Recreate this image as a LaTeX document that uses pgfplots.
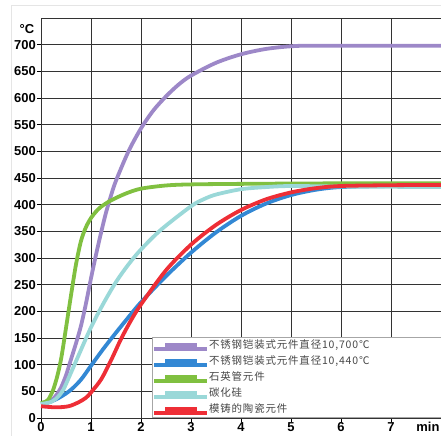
\documentclass[border=0pt]{standalone}
\usepackage{pgfplots}
\pgfplotsset{compat=1.18}
\usepackage{fontspec}
\setmainfont{Liberation Sans}
\newfontfamily\cjk[LetterSpace=8]{Noto Sans CJK SC}
\definecolor{cpur}{HTML}{9D88C8}
\definecolor{cblu}{HTML}{3388D4}
\definecolor{cgrn}{HTML}{80C040}
\definecolor{ccya}{HTML}{9AD8D8}
\definecolor{cred}{HTML}{EE2E36}
\begin{document}
\begin{tikzpicture}
\path[use as bounding box] (-41bp,-18bp) rectangle (400bp,418bp);
\begin{axis}[
  at={(0,0)}, anchor=south west,
  scale only axis, width=400bp, height=400bp,
  xmin=0, xmax=8, ymin=0, ymax=750,
  xtick={0,...,7}, ytick={0,50,...,700},
  grid=major, major grid style={black!80, line width=0.8bp},
  axis line style={black!80, line width=0.8bp},
  tick style={black, line width=0.8bp},
  tick align=outside, major tick length=4bp,
  xtick pos=left, ytick pos=left,
  ticklabel style={font=\fontsize{13}{15}\selectfont\bfseries},
  /pgf/number format/assume math mode=true,
  yticklabel style={inner xsep=1bp},
  xticklabel style={inner ysep=0.5bp},
  clip=false,
  legend style={at={(0.2775,0.2025)}, anchor=north west, draw=black!35, line width=0.6bp,
    fill=white, inner xsep=0bp, inner ysep=0bp, row sep=0bp, column sep=0bp,
    font=\cjk\fontsize{10.5}{12}\selectfont,
    nodes={inner xsep=0bp, inner ysep=1bp, text height=10.5bp, text depth=3.5bp, anchor=base west, text=black!72}},
  legend cell align=left,
  legend image code/.code={\path (0bp,0bp) -- (53bp,0bp); \draw[#1, line width=5bp] (11bp,3.7bp) -- (43bp,3.7bp);},
  every axis plot/.append style={line width=3.8bp, smooth},
]
\addplot[cpur] coordinates {(0,25) (0.1,27) (0.2,32) (0.3,42) (0.4,57) (0.5,80) (0.6,110) (0.7,140) (0.8,173) (0.9,215) (1.0,262) (1.1,306) (1.2,347) (1.3,385) (1.4,417) (1.5,445) (1.75,500) (2.0,543) (2.25,577) (2.5,603) (2.75,625) (3.0,642) (3.5,666) (4,682) (4.5,692) (5,697) (5.5,698) (8,698)};
\addplot[cblu] coordinates {(0,27) (0.2,31) (0.4,40) (0.6,53) (0.8,72) (1.0,98) (1.25,130) (1.5,160) (1.75,189) (2.0,217) (2.5,266) (3.0,310) (3.5,348) (4,379) (4.5,402) (5,418) (5.5,428) (6,433) (7,435) (8,436)};
\addplot[cgrn] coordinates {(0,28) (0.1,31) (0.15,35) (0.24,52) (0.33,80) (0.41,115) (0.51,175) (0.6,230) (0.7,288) (0.8,332) (0.9,358) (1.0,375) (1.1,387) (1.2,396) (1.4,408) (1.7,421) (2.0,430) (2.5,436) (3,438) (4,439) (6,440) (8,440)};
\addplot[ccya] coordinates {(0,26) (0.2,30) (0.3,36) (0.44,52) (0.6,85) (0.74,115) (1.0,170) (1.25,215) (1.5,255) (1.75,288) (2.0,316) (2.4,353) (3.0,397) (3.25,410) (3.5,419) (4,429) (4.5,433) (5,435) (6,434) (8,433)};
\addplot[cred] coordinates {(0,22) (0.3,20) (0.55,22) (0.74,29) (0.9,38) (1.0,48) (1.2,72) (1.4,108) (1.6,148) (1.8,183) (2.0,213) (2.5,277) (3,325) (3.5,362) (4,390) (4.5,410) (5,423) (5.5,431) (6,435) (7,436.5) (8,437)};
\legend{\makebox[233bp][l]{不锈钢铠装式元件直径10,700℃},
        \makebox[233bp][l]{不锈钢铠装式元件直径10,440℃},
        \makebox[233bp][l]{石英管元件},
        \makebox[233bp][l]{碳化硅},
        \makebox[233bp][l]{模铸的陶瓷元件}}
\node[font=\fontsize{13}{15}\selectfont\bfseries] at (axis cs:-0.28,729) {°C};
\node[anchor=base, yshift=-13.7bp, font=\fontsize{13}{15}\selectfont\bfseries] at (axis cs:7.74,0) {min};
\end{axis}
\draw[black!10, line width=0.8bp] (-30bp,-18bp) -- (-30bp,413bp) -- (400bp,413bp);
\end{tikzpicture}
\end{document}
